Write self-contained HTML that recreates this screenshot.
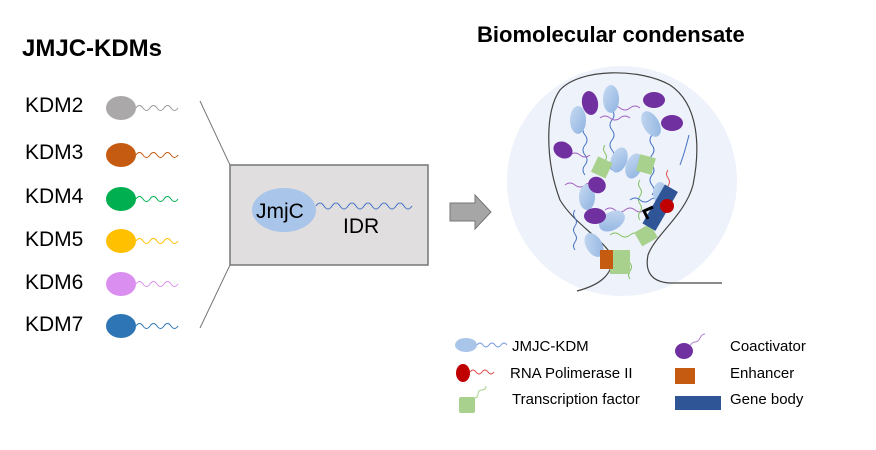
<!DOCTYPE html>
<html><head><meta charset="utf-8"><style>
body{margin:0;background:#fff;}
svg{display:block;font-family:"Liberation Sans",Arial,sans-serif;}
</style></head><body>
<svg width="876" height="450" viewBox="0 0 876 450" xmlns="http://www.w3.org/2000/svg">
<defs>
<linearGradient id="bl" x1="0" y1="0" x2="1" y2="1"><stop offset="0" stop-color="#c7daf2"/><stop offset="1" stop-color="#8fb3e0"/></linearGradient>
</defs>
<text x="22" y="56" font-size="24" font-weight="bold">JMJC-KDMs</text>
<text x="477" y="42" font-size="22" font-weight="bold">Biomolecular condensate</text>

<g font-size="21" fill="#000">
<text x="25" y="112">KDM2</text><text x="25" y="159">KDM3</text><text x="25" y="203">KDM4</text>
<text x="25" y="246">KDM5</text><text x="25" y="289">KDM6</text><text x="25" y="331">KDM7</text>
</g>
<g fill="none" stroke-width="1">
<ellipse cx="121" cy="108" rx="15" ry="12" fill="#aaa8a8"/><path d="M136 108 q3.5 -5 7 0 t7 0 t7 0 t7 0 t7 0 t7 0" stroke="#999"/>
<ellipse cx="121" cy="155" rx="15" ry="12" fill="#c55a11"/><path d="M136 155 q3.5 -5 7 0 t7 0 t7 0 t7 0 t7 0 t7 0" stroke="#c55a11"/>
<ellipse cx="121" cy="199" rx="15" ry="12" fill="#00b050"/><path d="M136 199 q3.5 -5 7 0 t7 0 t7 0 t7 0 t7 0 t7 0" stroke="#00b050"/>
<ellipse cx="121" cy="241" rx="15" ry="12" fill="#ffc000"/><path d="M136 241 q3.5 -5 7 0 t7 0 t7 0 t7 0 t7 0 t7 0" stroke="#ffc000"/>
<ellipse cx="121" cy="284" rx="15" ry="12" fill="#da8ff0"/><path d="M136 284 q3.5 -5 7 0 t7 0 t7 0 t7 0 t7 0 t7 0" stroke="#da8ff0"/>
<ellipse cx="121" cy="326" rx="15" ry="12" fill="#2e75b6"/><path d="M136 326 q3.5 -5 7 0 t7 0 t7 0 t7 0 t7 0 t7 0" stroke="#2e75b6"/>
</g>
<line x1="200" y1="101" x2="230" y2="165" stroke="#777"/>
<line x1="200" y1="328" x2="230" y2="265" stroke="#777"/>
<rect x="230" y="165" width="198" height="100" fill="#e0dede" stroke="#777" stroke-width="1.5"/>
<ellipse cx="284" cy="210" rx="32" ry="22" fill="#a9c5ea"/>
<text x="256" y="218" font-size="21">JmjC</text>
<path d="M316 206 q4 -6 8 0 t8 0 t8 0 t8 0 t8 0 t8 0 t8 0 t8 0 t8 0 t8 0 t8 0 t8 0" fill="none" stroke="#4472c4"/>
<text x="343" y="233" font-size="21">IDR</text>
<path d="M450 203 h25 v-8 l16 17 l-16 17 v-8 h-25 z" fill="#a6a6a6" stroke="#777"/>

<circle cx="622" cy="181" r="115" fill="#eef2fa"/>
<path d="M577 291 C600 285 612 275 613 258 C605 240 575 225 560 200 C545 160 545 110 560 90 C580 68 640 68 670 85 C700 105 700 150 693 185 C685 215 655 235 648 255 C645 270 650 282 670 283 L722 283" fill="none" stroke="#444" stroke-width="1.2"/>
<g fill="none" stroke-width="1">
<path d="M585 125 q-4 5 0 10 t0 10 t0 10 t0 10 t0 10" stroke="#4472c4"/>
<path d="M612 110 q4 5 0 10 t0 10 t0 10 t0 10 t0 10 t0 10" stroke="#4472c4"/>
<path d="M652 135 q-4 5 0 10 t0 10 t0 10 t0 10 t0 10 t0 10" stroke="#4472c4"/>
<path d="M600 118 q5 -4 10 0 t10 0 t10 0" stroke="#a05fc0"/>
<path d="M640 108 q-5 -4 -10 0 t-10 0 t-10 0" stroke="#a05fc0"/>
<path d="M570 155 q5 -4 10 0 t10 0" stroke="#a05fc0"/>
<path d="M565 185 q5 -4 10 0 t10 0 t10 0" stroke="#a05fc0"/>
<path d="M605 210 q5 -4 10 0 t10 0 t10 0 t10 0" stroke="#a05fc0"/>
<path d="M605 145 q-3 4 0 8 t0 8 t0 8 t0 8" stroke="#7fc060"/>
<path d="M640 180 q-3 4 0 8 t0 8 t0 8 t0 8 t0 8" stroke="#7fc060"/>
<path d="M610 235 q5 -4 10 0 t10 0 t10 0" stroke="#7fc060"/>
<path d="M630 255 q-3 4 0 8 t0 8 t0 8" stroke="#7fc060"/>
<path d="M668 170 q-3 4 0 8 t0 8 t0 8 t0 8" stroke="#e05050"/>
<path d="M630 200 q5 -4 10 0 t10 0 t10 0 t10 0" stroke="#4472c4"/>
<path d="M575 210 q-3 4 0 8 t0 8 t0 8 t0 8 t0 8" stroke="#4472c4"/>
<path d="M680 165 q3 -8 5 -15 t4 -15" stroke="#4472c4"/>
</g>
<g fill="url(#bl)">
<ellipse cx="578" cy="120" rx="8" ry="14"/>
<ellipse cx="611" cy="99" rx="8" ry="14"/>
<ellipse cx="651" cy="124" rx="8" ry="14" transform="rotate(-30 651 124)"/>
<ellipse cx="619" cy="160" rx="8" ry="13" transform="rotate(20 619 160)"/>
<ellipse cx="634" cy="166" rx="8" ry="13" transform="rotate(20 634 166)"/>
<ellipse cx="587" cy="197" rx="8" ry="13"/>
<ellipse cx="612" cy="221" rx="9" ry="14" transform="rotate(60 612 221)"/>
<ellipse cx="594" cy="245" rx="8" ry="13" transform="rotate(-30 594 245)"/>
<ellipse cx="660" cy="193" rx="7" ry="11"/>
</g>
<g fill="#7030a0">
<ellipse cx="590" cy="103" rx="8" ry="12" transform="rotate(-10 590 103)"/>
<ellipse cx="654" cy="100" rx="11" ry="8"/>
<ellipse cx="672" cy="123" rx="11" ry="8"/>
<ellipse cx="563" cy="150" rx="10" ry="8" transform="rotate(30 563 150)"/>
<ellipse cx="597" cy="185" rx="9" ry="8" transform="rotate(30 597 185)"/>
<ellipse cx="595" cy="216" rx="11" ry="8"/>
</g>
<g fill="#a9d18e">
<rect x="594" y="159" width="16" height="17" transform="rotate(25 602 167)"/>
<rect x="638" y="156" width="16" height="17" transform="rotate(15 646 164)"/>
<rect x="637" y="227" width="18" height="16" transform="rotate(-30 646 235)"/>
<rect x="610" y="250" width="20" height="24"/>
</g>
<rect x="600" y="250" width="13" height="19" fill="#c55a11"/>
<rect x="653" y="185" width="15" height="45" fill="#2f5597" transform="rotate(30 660 207)"/>
<circle cx="667" cy="206" r="7" fill="#c00000"/>
<path d="M653 207 l-9 4 l4 8" fill="none" stroke="#000" stroke-width="3"/>

<ellipse cx="466" cy="345" rx="11" ry="7" fill="#a9c5ea"/>
<path d="M477 345 q3 -4 6 0 t6 0 t6 0 t6 0 t6 0" fill="none" stroke="#7a9be0"/>
<text x="512" y="351" font-size="15">JMJC-KDM</text>
<ellipse cx="463" cy="373" rx="7" ry="9" fill="#c00000"/>
<path d="M470 372 q3 -4 6 0 t6 0 t6 0 t6 0" fill="none" stroke="#e05050"/>
<text x="510" y="378" font-size="15">RNA Polimerase II</text>
<rect x="459" y="397" width="16" height="16" rx="2" fill="#a9d18e"/>
<path d="M474 398 q4 0 4 -4 t4 -4 t4 -4" fill="none" stroke="#a9d18e"/>
<text x="512" y="404" font-size="15">Transcription factor</text>
<ellipse cx="684" cy="351" rx="9" ry="8" fill="#7030a0"/>
<path d="M690 346 q2 -4 5 -4 t5 -4 t5 -4" fill="none" stroke="#b080d0"/>
<text x="730" y="351" font-size="15">Coactivator</text>
<rect x="675" y="368" width="20" height="16" fill="#c55a11"/>
<text x="730" y="378" font-size="15">Enhancer</text>
<rect x="675" y="396" width="46" height="14" fill="#2f5597"/>
<text x="730" y="404" font-size="15">Gene body</text>
</svg>
</body></html>
